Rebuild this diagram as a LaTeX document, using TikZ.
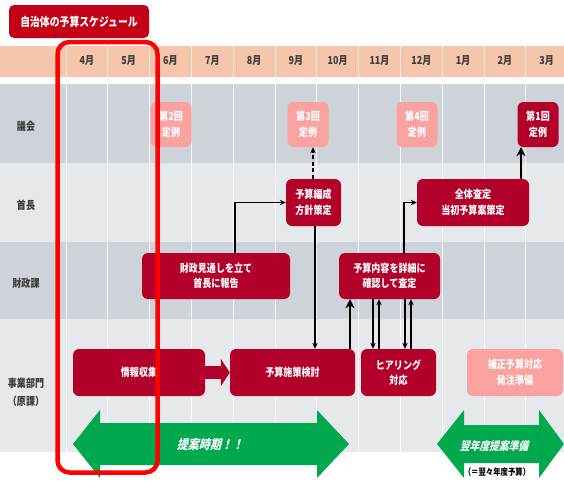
\documentclass[tikz,border=0pt]{standalone}
\usepackage{fontspec}
\setmainfont{Noto Sans CJK JP}
\newfontfamily\jpc[FakeStretch=0.82]{Noto Sans CJK JP}
\newfontfamily\jpsl[FakeSlant=0.25,FakeStretch=0.85]{Noto Sans CJK JP}
\usetikzlibrary{arrows.meta}
\definecolor{dred}{RGB}{178,0,42}
\definecolor{pinkb}{RGB}{250,162,160}
\definecolor{tred}{RGB}{196,0,22}
\definecolor{peach}{RGB}{246,198,172}
\definecolor{rowdark}{RGB}{206,210,217}
\definecolor{rowlight}{RGB}{230,233,236}
\definecolor{gr}{RGB}{0,168,78}
\definecolor{lbl}{RGB}{60,60,60}
\begin{document}
\begin{tikzpicture}[x=1pt,y=-1pt,
  rbox/.style={rounded corners=6pt, fill=dred, text=white, align=center, inner sep=0pt,
    font=\jpc\bfseries\fontsize{11}{15.5}\selectfont, minimum height=46pt},
  pbox/.style={rbox, fill=pinkb},
  kbox/.style={rbox, minimum width=41pt, minimum height=45pt},
  conn/.style={line width=1.3pt, -{Stealth[length=6pt,width=5.5pt]}},
  bigconn/.style={line width=2.5pt, -{Stealth[length=9pt,width=9pt]}},
  mon/.style={font=\jpc\bfseries\fontsize{11}{12}\selectfont, text=lbl},
  rowlbl/.style={font=\jpc\bfseries\fontsize{11}{18}\selectfont, text=lbl, align=center},
  grid/.style={white, line width=0.8pt, opacity=0.8}]
\useasboundingbox (0,0) rectangle (564,491);
\fill[white] (0,0) rectangle (564,491);

% title
\node[rounded corners=5pt, fill=tred, text=white, minimum width=140pt, minimum height=33pt,
  inner sep=0pt, font=\jpc\bfseries\fontsize{12}{13}\selectfont] (title) at (79,21.5) {自治体の予算スケジュール};

% bands
\fill[peach] (0,46) rectangle (564,77);
\fill[rowdark] (0,84) rectangle (564,163);
\fill[rowlight] (0,163) rectangle (564,242);
\fill[rowdark] (0,242) rectangle (564,319);
\fill[rowlight] (0,319) rectangle (564,452);

% grid lines
\foreach \k in {0,...,11} {
  \draw[grid] (66+41.8*\k,84) -- (66+41.8*\k,452);
  \draw[white, line width=0.8pt, opacity=0.6] (66+41.8*\k,46) -- (66+41.8*\k,77);
}

% months
\foreach \m [count=\i from 0] in {4月,5月,6月,7月,8月,9月,10月,11月,12月,1月,2月,3月} {
  \node[mon] (m\i) at (66+41.8*\i+20.9,61) {\m};
}

% row labels
\node[rowlbl] (r1) at (26,126) {議会};
\node[rowlbl] (r2) at (26,205) {首長};
\node[rowlbl] (r3) at (26,283) {財政課};
\node[rowlbl] (r4) at (26,392) {事業部門\\（原課）};

% boxes
\node[kbox, fill=pinkb] (kai2) at (171,124.5) {第2回\\定例};
\node[kbox, fill=pinkb] (kai3) at (308,124.5) {第3回\\定例};
\node[kbox, fill=pinkb] (kai4) at (417,124.5) {第4回\\定例};
\node[kbox] (kai1) at (538,124.5) {第1回\\定例};

\node[rbox, minimum width=55pt, minimum height=47pt] (hensei) at (313.5,202.5) {予算編成\\方針策定};
\node[rbox, minimum width=112pt, minimum height=47pt] (zentai) at (473,202.5) {全体査定\\当初予算案策定};

\node[rbox, minimum width=148pt] (zaisei) at (216,276) {財政見通しを立て\\首長に報告};
\node[rbox, minimum width=101pt] (naiyou) at (389.5,276) {予算内容を詳細に\\確認して査定};

\node[rbox, minimum width=132pt, minimum height=47pt] (jouhou) at (139,372.5) {情報収集};
\node[rbox, minimum width=125pt, minimum height=47pt] (shisaku) at (292.5,372.5) {予算施策検討};
\node[rbox, minimum width=75pt, minimum height=47pt] (hearing) at (398.5,372.5) {ヒアリング\\対応};
\node[pbox, minimum width=96pt, minimum height=47pt] (hosei) at (515,372.5) {補正予算対応\\発注準備};

% block arrow
\draw[dred, line width=13pt, -{Triangle[length=9pt,width=27pt]}] (jouhou.east) -- (shisaku.west);

% connectors
\coordinate (c1) at (235,0);
\coordinate (c2) at (313,0);
\coordinate (c3) at (315,0);
\coordinate (c4) at (350,0);
\coordinate (c5) at (373,0);
\coordinate (c6) at (379,0);
\coordinate (c7) at (405,0);
\coordinate (c8) at (411,0);
\coordinate (c9) at (521,0);
\coordinate (c10) at (404,0);

\draw[conn] (c1 |- zaisei.north) |- (hensei.west);
\draw[conn, dash pattern=on 4pt off 2.5pt] (c2 |- hensei.north) -- (c2 |- kai3.south);
\draw[conn] (c3 |- hensei.south) -- (c3 |- shisaku.north);
\draw[bigconn] (c4 |- shisaku.north) -- (c4 |- naiyou.south);
\draw[conn] (c5 |- naiyou.south) -- (c5 |- hearing.north);
\draw[conn] (c6 |- hearing.north) -- (c6 |- naiyou.south);
\draw[conn] (c7 |- naiyou.south) -- (c7 |- hearing.north);
\draw[conn] (c8 |- hearing.north) -- (c8 |- naiyou.south);
\draw[conn] (c10 |- naiyou.north) |- (zentai.west);
\draw[bigconn] (c9 |- zentai.north) -- (c9 |- kai1.south);

% green arrows
\fill[gr] (73,444) -- (100,410) -- (100,423) -- (317,423) -- (317,410) -- (349,444)
  -- (317,478) -- (317,465) -- (100,465) -- (100,478) -- cycle;
\node[text=white, font=\jpsl\bfseries\fontsize{13}{15}\selectfont] (teian) at (210,445) {提案時期！！};

\fill[gr] (437,444) -- (464,410) -- (464,425) -- (539,425) -- (539,410) -- (564,444)
  -- (539,478) -- (539,463) -- (464,463) -- (464,478) -- cycle;
\node[text=white, font=\jpsl\bfseries\fontsize{11.5}{13}\selectfont] (yokunen) at (494,446) {翌年度提案準備};
\node[text=black, font=\jpc\bfseries\fontsize{9}{10}\selectfont] (yokuyoku) at (497,472) {（＝翌々年度予算）};

% red highlight
\draw[red, line width=4.5pt, rounded corners=12pt] (57.5,42) rectangle (157.5,472.5);
\end{tikzpicture}
\end{document}
